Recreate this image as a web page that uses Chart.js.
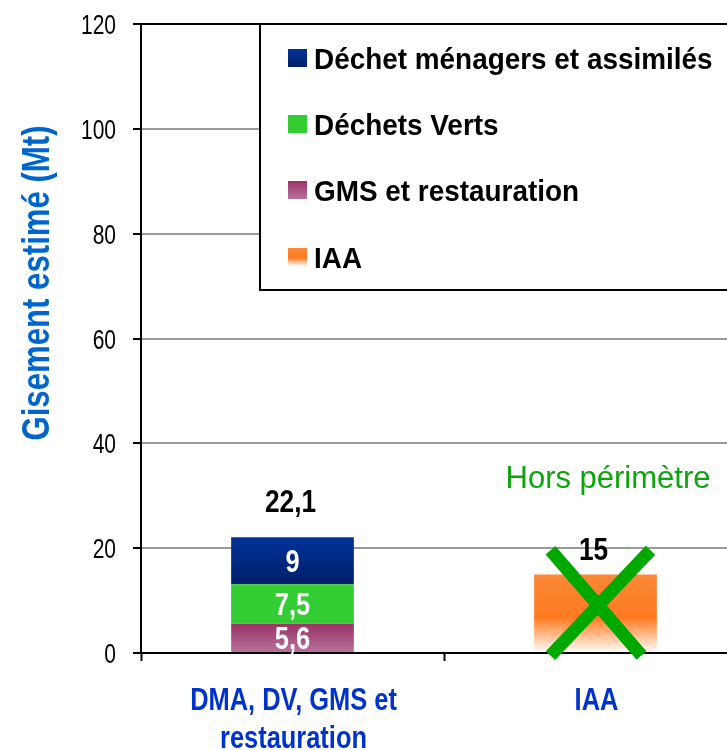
<!DOCTYPE html>
<html>
<head>
<meta charset="utf-8">
<script src="https://cdn.jsdelivr.net/npm/chart.js@4.4.1/dist/chart.umd.min.js"></script>
<style>
  html, body { margin: 0; padding: 0; overflow: hidden; background: #fff; width: 727px; height: 750px; }
  canvas { display: block; }
</style>
</head>
<body>
<canvas id="c" width="752" height="750"></canvas>
<script>
// ---- data ----
const categories = [['DMA, DV, GMS et', 'restauration'], ['IAA']];
const gmsValues = [5.6, null];
const dvValues  = [7.5, null];
const dmaValues = [9, null];
const iaaValues = [null, 15];
const totalLabels = ['22,1', '15'];
const yTickValues = [0, 20, 40, 60, 80, 100, 120];
const seriesNames = {
  dma: 'Déchet ménagers et assimilés',
  dv: 'Déchets Verts',
  gms: 'GMS et restauration',
  iaa: 'IAA'
};
const yTitle = 'Gisement estimé (Mt)';
const outOfScope = 'Hors périmètre';

// ---- styles ----
const SANS = "'Liberation Sans', Arial, sans-serif";
const stopsDMA = [[0, '#003399'], [1, '#001E68']];
const stopsDV = [[0, '#33CC33'], [1, '#33CC33']];
const stopsGMS = [[0, '#993366'], [1, '#B8739C']];
const stopsIAA = [[0, '#FA8838'], [0.55, '#FF7A1E'], [1, '#FFFFFF']];

function makeGrad(c, y1, y0, stops) {
  const g = c.createLinearGradient(0, y1, 0, y0);
  stops.forEach(([o, col]) => g.addColorStop(o, col));
  return g;
}
function barGradient(stops) {
  return (ctx) => {
    const chart = ctx.chart;
    const { chartArea, scales } = chart;
    if (!chartArea || ctx.type !== 'data' || !scales.y) return stops[0][1];
    const idx = ctx.dataIndex;
    let base = 0;
    for (let d = 0; d < ctx.datasetIndex; d++) base += chart.data.datasets[d].data[idx] || 0;
    const v = ctx.raw || 0;
    const y0 = scales.y.getPixelForValue(base);
    const y1 = scales.y.getPixelForValue(base + v);
    if (!isFinite(y0) || !isFinite(y1) || y0 === y1) return stops[0][1];
    return makeGrad(chart.ctx, y1, y0, stops);
  };
}

// text with horizontal condensing (emulates a narrow face)
function txt(c, s, x, y, font, color, align, sx, baseline) {
  c.save();
  c.translate(x, y);
  c.scale(sx, 1);
  c.font = font;
  c.fillStyle = color;
  c.textAlign = align;
  c.textBaseline = baseline || 'alphabetic';
  c.fillText(s, 0, 0);
  c.restore();
}

const overlayPlugin = {
  id: 'overlay',
  afterDraw(chart) {
    const c = chart.ctx;
    const { chartArea, scales } = chart;
    const y = scales.y, x = scales.x;
    c.save();

    // y tick labels
    yTickValues.forEach(v => {
      txt(c, String(v), 116, y.getPixelForValue(v) + 10, "28px " + SANS, '#000', 'right', 0.75);
    });

    // x category labels
    categories.forEach((lab, i) => {
      const cx = x.getPixelForValue(i) + 1;
      lab.forEach((line, k) => {
        txt(c, line, cx, 710 + k * 38, "bold 31px " + SANS, '#0033CC', 'center', 0.82);
      });
    });

    // data labels inside segments
    [0, 1, 2].forEach(di => {
      const meta = chart.getDatasetMeta(di);
      meta.data.forEach((el, i) => {
        const v = chart.data.datasets[di].data[i];
        if (v == null) return;
        txt(c, String(v).replace('.', ','), el.x, (el.y + el.base) / 2 + 11, "bold 31px " + SANS, '#FFFFFF', 'center', 0.82);
      });
    });

    // totals
    const totals = categories.map((_, i) => (gmsValues[i] || 0) + (dvValues[i] || 0) + (dmaValues[i] || 0) + (iaaValues[i] || 0));
    const offsets = [25, 14];
    totals.forEach((t, i) => {
      const metaIdx = i === 0 ? 2 : 3;
      const el = chart.getDatasetMeta(metaIdx).data[i];
      txt(c, totalLabels[i], el.x - 2, y.getPixelForValue(t) - offsets[i], "bold 32px " + SANS, '#000', 'center', 0.82);
    });

    // green cross over IAA bar
    const el = chart.getDatasetMeta(3).data[1];
    c.strokeStyle = '#00A800';
    c.lineWidth = 13;
    c.lineCap = 'butt';
    const yTop = y.getPixelForValue(19.6), yBot = y.getPixelForValue(-0.5);
    c.beginPath();
    c.moveTo(el.x - 45, yTop); c.lineTo(el.x + 46, yBot);
    c.moveTo(el.x + 55, yTop); c.lineTo(el.x - 45, yBot);
    c.stroke();

    // "Hors périmètre"
    txt(c, outOfScope, 608, y.getPixelForValue(33.6) + 11, "31px " + SANS, '#0DA50D', 'center', 1);

    // legend box
    const lx = 260, ly = chartArea.top, lh = 266;
    c.fillStyle = '#FFFFFF';
    c.fillRect(lx, ly, chart.width - lx + 10, lh);
    c.strokeStyle = '#000000';
    c.lineWidth = 2;
    c.strokeRect(lx, ly, chart.width - lx + 10, lh);
    const items = [
      [seriesNames.dma, stopsDMA],
      [seriesNames.dv, stopsDV],
      [seriesNames.gms, stopsGMS],
      [seriesNames.iaa, stopsIAA]
    ];
    const rowY = [58, 124, 190, 257];
    items.forEach(([s, st], i) => {
      const cy = rowY[i];
      c.fillStyle = makeGrad(c, cy - 9, cy + 9, st);
      c.fillRect(288, cy - 9, 19, 18);
      txt(c, s, 314, cy + 11, "bold 30px " + SANS, '#000', 'left', 0.93);
    });

    // y title
    c.save();
    c.translate(36, 283);
    c.rotate(-Math.PI / 2);
    txt(c, yTitle, 0, 13, "bold 38px " + SANS, '#0066CC', 'center', 0.82);
    c.restore();

    c.restore();
  }
};

new Chart(document.getElementById('c'), {
  type: 'bar',
  data: {
    labels: categories,
    datasets: [
      { label: seriesNames.gms, data: gmsValues, backgroundColor: barGradient(stopsGMS) },
      { label: seriesNames.dv, data: dvValues, backgroundColor: barGradient(stopsDV) },
      { label: seriesNames.dma, data: dmaValues, backgroundColor: barGradient(stopsDMA) },
      { label: seriesNames.iaa, data: iaaValues, backgroundColor: barGradient(stopsIAA) }
    ]
  },
  options: {
    responsive: false,
    devicePixelRatio: 1,
    animation: false,
    layout: { padding: { top: 24, right: 5, left: 0, bottom: 0 } },
    datasets: { bar: { barPercentage: 0.405, categoryPercentage: 1, borderWidth: 0 } },
    plugins: { legend: { display: false }, tooltip: { enabled: false } },
    scales: {
      x: {
        stacked: true,
        offset: true,
        grid: { display: true, drawOnChartArea: false, drawTicks: true, tickLength: 8, tickColor: '#000', tickWidth: 2, offset: true },
        border: { display: true, color: '#000', width: 2 },
        ticks: { display: false },
        afterFit(scale) { scale.height = 97; scale.paddingLeft = 0; scale.paddingRight = 0; }
      },
      y: {
        stacked: true,
        min: 0,
        max: 120,
        afterBuildTicks(scale) { scale.ticks = yTickValues.map(v => ({ value: v })); },
        grid: {
          color: (ctx) => (ctx.tick && ctx.tick.value === 120) ? '#000000' : '#999999',
          lineWidth: 2,
          tickLength: 8,
          tickColor: '#000000',
          tickWidth: 2
        },
        border: { display: true, color: '#000', width: 2 },
        ticks: { display: false },
        afterFit(scale) { scale.width = 141; scale.paddingTop = 0; scale.paddingBottom = 0; }
      }
    }
  },
  plugins: [overlayPlugin]
});
</script>
</body>
</html>
